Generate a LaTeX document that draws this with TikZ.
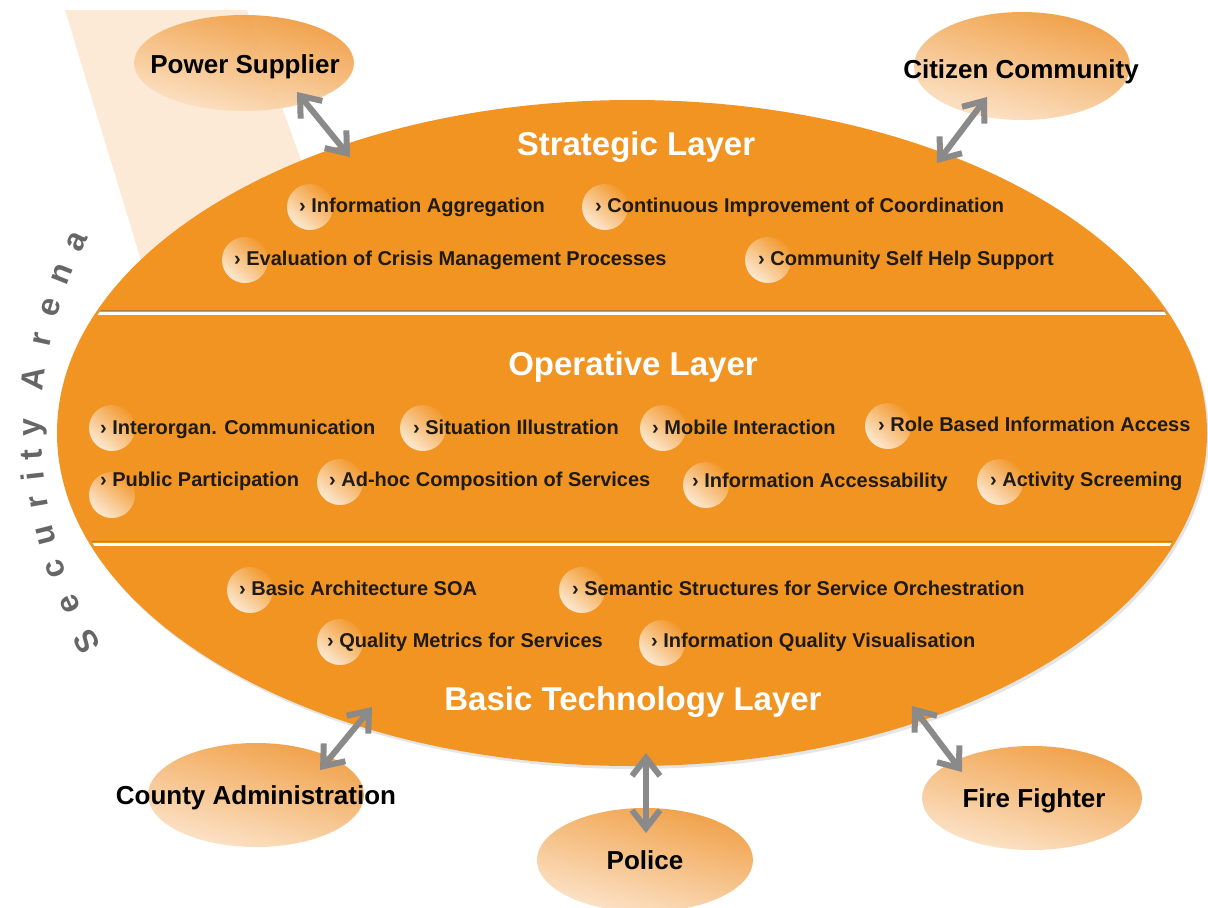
\documentclass[tikz,border=0pt]{standalone}
\usepackage{fontspec}
\setmainfont{Liberation Sans}
\usetikzlibrary{arrows.meta,shapes.geometric}
\definecolor{orng}{HTML}{F29422}
\definecolor{pale}{HTML}{FCEAD6}
\definecolor{entTop}{HTML}{EF9634}
\definecolor{entBot}{HTML}{FCE2C6}
\definecolor{bubTop}{HTML}{F39A30}
\definecolor{bubBot}{HTML}{FDEEDC}
\definecolor{arrowgray}{HTML}{8A8A8A}
\definecolor{arenagray}{HTML}{666666}
\definecolor{divdark}{HTML}{B87A3A}
\definecolor{itemtxt}{HTML}{1E1A16}
\begin{document}
\begin{tikzpicture}[x=1pt,y=-1pt,
  entity/.style={ellipse, draw=none, inner sep=0pt, minimum width=216pt, minimum height=104pt,
    top color=entTop, bottom color=entBot, shading angle=-15, fill opacity=0.9},
  entlabel/.style={anchor=base, inner sep=0pt, text=black, font=\fontsize{26}{30}\selectfont\bfseries},
  bubble/.style={circle, draw=none, inner sep=0pt, minimum size=46pt,
    top color=bubTop, bottom color=bubBot, shading angle=-40, fill opacity=0.95},
  item/.style={anchor=base west, inner sep=0pt, text=itemtxt, font=\fontsize{20}{24}\selectfont\bfseries},
  title/.style={anchor=base, inner sep=0pt, text=white, font=\fontsize{33}{38}\selectfont\bfseries},
  arena/.style={anchor=base, inner sep=0pt, text=arenagray, font=\fontsize{32}{36}\selectfont\bfseries},
  conn/.style={draw=arrowgray, line width=6pt, line join=round,
    {Straight Barb[length=18pt,width=28pt]}-{Straight Barb[length=18pt,width=28pt]}}
]
\useasboundingbox (0,0) rectangle (1208,908);
\fill[white] (0,0) rectangle (1208,908);

% pale wedge behind
\fill[pale] (65,10) -- (247,10) -- (310,185) -- (150,290) -- cycle;

% main ellipse with soft shadow
\fill[black, opacity=0.10] (634,436) ellipse [x radius=575pt, y radius=333pt];
\node[ellipse, fill=orng, draw=none, inner sep=0pt, minimum width=1150pt, minimum height=666pt] (main) at (632,433) {};

% layer dividers
\begin{scope}
  \clip (632,433) ellipse [x radius=572pt, y radius=330pt];
  \draw[divdark, line width=1.2pt] (0,310.5) -- (1208,310.5);
  \draw[white, line width=3pt] (0,313.2) -- (1208,313.2);
  \draw[divdark, line width=1.2pt] (0,541.5) -- (1208,541.5);
  \draw[white, line width=3pt] (0,544.2) -- (1208,544.2);
\end{scope}

% bubbles
\node[bubble] (b1) at (310,207) {};
\node[bubble] (b2) at (605,207) {};
\node[bubble] (b3) at (245,260) {};
\node[bubble] (b4) at (768,260) {};
\node[bubble] (b5) at (112,428) {};
\node[bubble] (b6) at (423,428) {};
\node[bubble] (b7) at (663,428) {};
\node[bubble] (b8) at (888,426) {};
\node[bubble] (b9) at (112,495) {};
\node[bubble] (b10) at (340,482) {};
\node[bubble] (b11) at (706,485) {};
\node[bubble] (b12) at (1000,482) {};
\node[bubble] (b13) at (250,590) {};
\node[bubble] (b14) at (582,590) {};
\node[bubble] (b15) at (340,642) {};
\node[bubble] (b16) at (662,643) {};

% items
\node[item] (i1) at (299,212) {› Information Aggregation};
\node[item] (i2) at (595,212) {› Continuous Improvement of Coordination};
\node[item] (i3) at (234,265) {› Evaluation of Crisis Management Processes};
\node[item] (i4) at (758,265) {› Community Self Help Support};
\node[item] (i5) at (100,434) {› Interorgan. Communication};
\node[item] (i6) at (413,434) {› Situation Illustration};
\node[item] (i7) at (652,434) {› Mobile Interaction};
\node[item] (i8) at (878,431) {› Role Based Information Access};
\node[item] (i9) at (100,486) {› Public Participation};
\node[item] (i10) at (329,486) {› Ad-hoc Composition of Services};
\node[item] (i11) at (692,487) {› Information Accessability};
\node[item] (i12) at (990,486) {› Activity Screeming};
\node[item] (i13) at (239,595) {› Basic Architecture SOA};
\node[item] (i14) at (572,595) {› Semantic Structures for Service Orchestration};
\node[item] (i15) at (327,647) {› Quality Metrics for Services};
\node[item] (i16) at (651,647) {› Information Quality Visualisation};

% titles
\node[title] (t1) at (636,155) {Strategic Layer};
\node[title] (t2) at (633,375) {Operative Layer};
\node[title] (t3) at (633,710) {Basic Technology Layer};

% Security Arena
\foreach \ch/\ang [count=\k] in {S/209.8, e/204.3, c/199.2, u/194.4, r/189.8, i/186.3, t/183.4, y/179.7, A/173.0, r/167.7, e/163.1, n/158.4, a/153.6}
  \node[arena, rotate=\ang-90] (sa\k) at ({455+414*cos(\ang)},{430-414*sin(\ang)}) {\ch};

% outside actors
\node[entity, minimum width=220pt, minimum height=96pt] (psE) at (244,63) {};
\node[entlabel] (ps) at (245,73) {Power Supplier};
\node[entity, minimum height=108pt] (ccE) at (1022,66) {};
\node[entlabel] (cc) at (1021,78) {Citizen Community};
\node[entity] (caE) at (256,795) {};
\node[entlabel] (ca) at (256,804) {County Administration};
\node[entity] (poE) at (645,860) {};
\node[entlabel] (po) at (645,869) {Police};
\node[entity, minimum width=220pt] (ffE) at (1032,798) {};
\node[entlabel] (ff) at (1034,807) {Fire Fighter};

% connector ends
\coordinate (psA) at (297,92);
\coordinate (psB) at (350,157);
\coordinate (ccA) at (987,97);
\coordinate (ccB) at (937,163);
\coordinate (caA) at (320,770);
\coordinate (caB) at (372,707);
\coordinate (poA) at (646,833);
\coordinate (poB) at (646,753);
\coordinate (ffA) at (962,772);
\coordinate (ffB) at (912,706);

\draw[conn] (psA) -- (psB);
\draw[conn] (ccA) -- (ccB);
\draw[conn] (caA) -- (caB);
\draw[conn] (poA) -- (poB);
\draw[conn] (ffA) -- (ffB);
\end{tikzpicture}
\end{document}
